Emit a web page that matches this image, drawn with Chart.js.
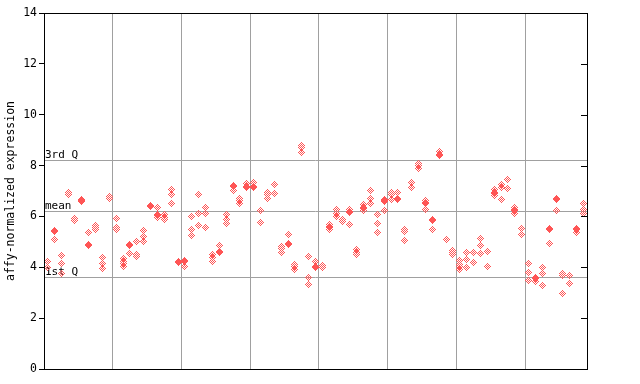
<!DOCTYPE html>
<html><head><meta charset="utf-8">
<script src="https://cdn.jsdelivr.net/npm/chart.js@4/dist/chart.umd.min.js"></script>
<style>html,body{margin:0;padding:0;background:#fff}#wrap{width:640px;height:384px}</style>
</head><body><div id="wrap"><canvas id="c" width="640" height="384"></canvas></div>
<script>
// Replicate values per sample column, split into the 8 groups shown by the vertical grid lines
const group1 = [[4.22,4.0],[5.45,5.41,5.08],[4.45,4.16,3.74],[6.95,6.87],[5.93,5.84],[6.66,6.61,6.57],[5.38,4.88,4.84],[5.63,5.55,5.47],[4.4,4.13,3.97],[6.78,6.72]];
const group2 = [[5.93,5.57,5.49],[4.33,4.22,4.13,4.05],[4.88,4.84,4.56],[5.03,4.52,4.41],[5.46,5.2,5.0],[6.42,6.38],[6.37,6.08,6.04,5.97],[6.06,5.95,5.87],[7.05,6.85,6.52],[4.24,4.2]];
const group3 = [[4.28,4.24,4.02],[6.01,5.5,5.26],[6.88,6.13,5.66],[6.37,6.13,5.58],[4.51,4.39,4.24],[4.87,4.63,4.59],[6.09,5.86,5.74],[7.2,7.16,7.01],[6.72,6.63,6.52],[7.3,7.16,7.12]];
const group4 = [[7.32,7.16,7.12],[6.22,5.78],[6.96,6.86,6.69],[7.27,6.89],[4.83,4.72,4.6],[5.3,4.95,4.91],[4.09,4.05,3.92],[8.77,8.73,8.52],[4.44,3.61,3.33],[4.23,4.02,4.0]];
const group5 = [[4.07,4.0],[5.7,5.6,5.55,5.47],[6.28,6.13,5.98],[5.86,5.82],[6.29,6.21,6.17,5.7],[4.69,4.59,4.49],[6.46,6.36,6.32,6.22],[7.01,6.72,6.52],[6.06,5.74,5.38],[6.68,6.62,6.58,6.22]];
const group6 = [[6.94,6.85,6.65],[6.94,6.7,6.66],[5.47,5.4,5.04],[7.32,7.15],[8.1,8.0,7.9],[6.62,6.56,6.52,6.29],[5.89,5.85,5.47],[8.57,8.42,8.38],[5.11],[4.67,4.58,4.49]];
const group7 = [[4.25,4.1,4.02,3.9],[4.59,4.29,4.0],[4.59,4.2],[5.15,4.87,4.55],[4.63,4.05],[7.05,6.93,6.9,6.82],[7.24,7.15,6.65],[7.44,7.11],[6.37,6.28,6.24,6.13],[5.54,5.3]];
const group8 = [[4.16,3.81,3.5],[3.59,3.55,3.44],[4.0,3.77,3.27],[5.53,5.47,4.95],[6.7,6.66,6.25],[3.74,3.67,2.95],[3.69,3.37],[5.54,5.47,5.38],[6.5,6.26,6.13]];
const groups = [group1, group2, group3, group4, group5, group6, group7, group8];

const yTicks = [0, 2, 4, 6, 8, 10, 12, 14];
const refLabels = ['3rd Q', 'mean', '1st Q'];
const refValues = [8.22, 6.22, 3.62];
const yTitle = 'affy-normalized expression';

// build points and group boundaries
const points = [];
const boundaries = [];
let col = 0;
groups.forEach((g, gi) => {
  g.forEach(vals => { vals.forEach(v => points.push({x: col, y: v})); col++; });
  if (gi < groups.length - 1) boundaries.push(col - 0.5);
});
const nCols = col;

const RED = '#ff5555';
function makeDiamond(color) {
  const c = document.createElement('canvas');
  c.width = 7; c.height = 7;
  const g = c.getContext('2d');
  g.fillStyle = color;
  for (let dy = -3; dy <= 3; dy++) for (let dx = -3; dx <= 3; dx++) {
    if (Math.abs(dx) + Math.abs(dy) <= 3 && ((dx + dy) & 1) === 1) g.fillRect(dx + 3, dy + 3, 1, 1);
  }
  return c;
}
const diamond = makeDiamond(RED);
const FONT = {family: 'DejaVu Sans Mono', size: 11.5};

const decor = {
  id: 'decor',
  beforeDraw(chart) { chart.ctx.imageSmoothingEnabled = false; },
  beforeDatasetsDraw(chart) {
    const {ctx, chartArea: a} = chart;
    const y = chart.scales.y;
    ctx.save();
    ctx.strokeStyle = '#a0a0a0';
    ctx.lineWidth = 1;
    refValues.forEach(v => {
      const py = Math.round(y.getPixelForValue(v)) + 0.5;
      ctx.beginPath(); ctx.moveTo(a.left, py); ctx.lineTo(a.right, py); ctx.stroke();
    });
    ctx.fillStyle = '#000';
    ctx.font = '11px "DejaVu Sans Mono"';
    ctx.textBaseline = 'bottom';
    ctx.textAlign = 'left';
    refValues.forEach((v, i) => {
      const py = Math.round(y.getPixelForValue(v));
      ctx.fillText(refLabels[i], a.left + 1, py + 1);
    });
    ctx.restore();
    ctx.imageSmoothingEnabled = false;
  },
  afterDraw(chart) {
    const {ctx, chartArea: a} = chart;
    const y = chart.scales.y;
    ctx.save();
    ctx.strokeStyle = '#000';
    ctx.lineWidth = 1;
    ctx.strokeRect(Math.round(a.left) + 0.5, Math.round(a.top) + 0.5, Math.round(a.right - a.left), Math.round(a.bottom - a.top));
    yTicks.forEach(v => {
      if (v === yTicks[0] || v === yTicks[yTicks.length - 1]) return;
      const py = Math.round(y.getPixelForValue(v)) + 0.5;
      ctx.beginPath(); ctx.moveTo(a.right - 6, py); ctx.lineTo(a.right, py); ctx.stroke();
    });
    ctx.restore();
  }
};

new Chart(document.getElementById('c'), {
  type: 'scatter',
  data: { datasets: [{ data: points, pointStyle: diamond, pointRadius: 3.5, pointHoverRadius: 3.5, showLine: false }] },
  options: {
    responsive: false, animation: false, devicePixelRatio: 1,
    layout: { padding: { left: 0, top: 13, right: 53, bottom: 15 } },
    plugins: { legend: { display: false }, tooltip: { enabled: false } },
    scales: {
      x: {
        type: 'linear', min: -0.5, max: nCols - 0.5,
        ticks: { display: false },
        border: { display: false },
        grid: { color: '#a0a0a0', lineWidth: 1, drawTicks: false },
        afterBuildTicks: s => { s.ticks = boundaries.map(v => ({value: v})); },
        afterFit: s => { s.height = 0; }
      },
      y: {
        min: 0, max: 14,
        border: { display: false },
        ticks: { stepSize: 2, color: '#000', font: FONT, padding: 2 },
        afterBuildTicks: s => { s.ticks = yTicks.map(v => ({value: v})); },
        grid: { drawOnChartArea: false, drawTicks: true, tickLength: 5, color: '#000' },
        title: { display: true, text: yTitle, color: '#000', font: FONT, padding: { top: 4, bottom: 0 } },
        afterFit: s => { s.width = 44; }
      }
    }
  },
  plugins: [decor]
});
</script>
</body></html>
